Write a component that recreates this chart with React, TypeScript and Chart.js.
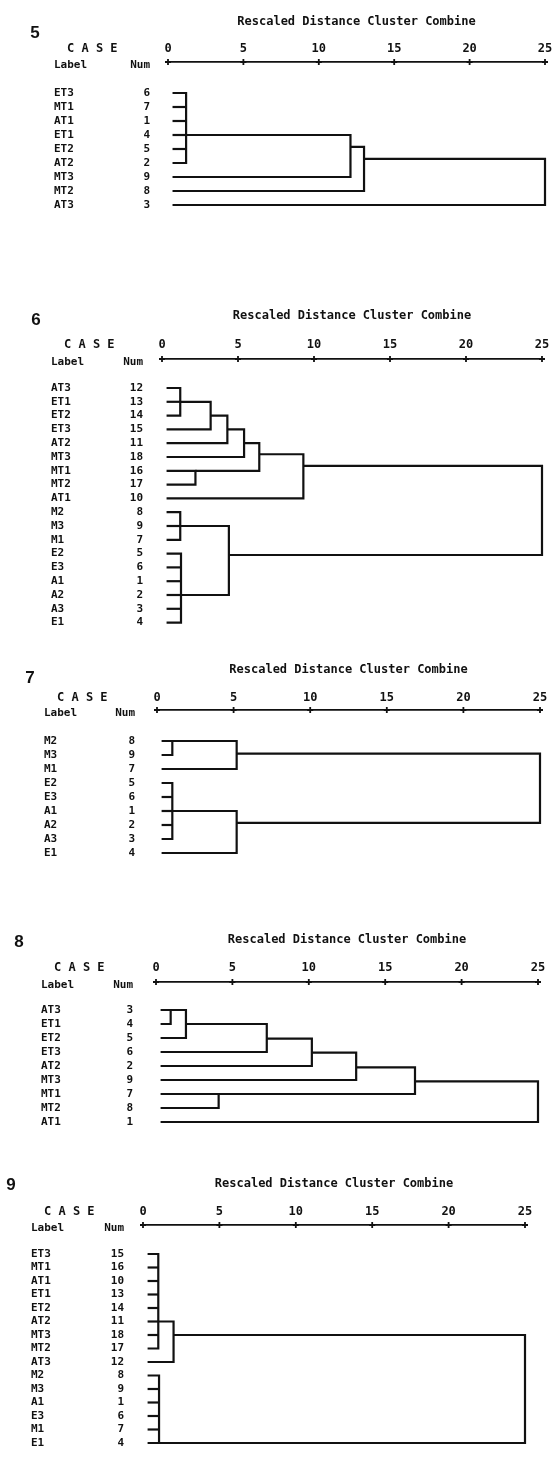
import React, { useEffect, useRef } from "react";
import { Chart, registerables } from "chart.js";

Chart.register(...registerables);

const INK = "#111111";
const MONO = '"DejaVu Sans Mono", "Liberation Mono", monospace';
const SANS = '"Liberation Sans", Arial, sans-serif';

// ---------- data ----------
const TITLE = "Rescaled Distance Cluster Combine";
const DIST_TICKS = [0, 5, 10, 15, 20, 25];
const LEAF_START = 0.3;

type Merge = { kids: string[]; dist: number; row: number };

// Panel 5
const P5_LABELS = ["ET3", "MT1", "AT1", "ET1", "ET2", "AT2", "MT3", "MT2", "AT3"];
const P5_NUMS = [6, 7, 1, 4, 5, 2, 9, 8, 3];
const P5_MERGES: Merge[] = [
  { kids: ["r0", "r1", "r2", "r3", "r4", "r5"], dist: 1.2, row: 3 },
  { kids: ["m0", "r6"], dist: 12.1, row: 3.85 },
  { kids: ["m1", "r7"], dist: 13.0, row: 4.7 },
  { kids: ["m2", "r8"], dist: 25, row: 6 },
];

// Panel 6
const P6_LABELS = ["AT3", "ET1", "ET2", "ET3", "AT2", "MT3", "MT1", "MT2", "AT1", "M2", "M3", "M1", "E2", "E3", "A1", "A2", "A3", "E1"];
const P6_NUMS = [12, 13, 14, 15, 11, 18, 16, 17, 10, 8, 9, 7, 5, 6, 1, 2, 3, 4];
const P6_MERGES: Merge[] = [
  { kids: ["r0", "r1", "r2"], dist: 1.2, row: 1 },
  { kids: ["m0", "r3"], dist: 3.2, row: 2 },
  { kids: ["m1", "r4"], dist: 4.3, row: 3 },
  { kids: ["m2", "r5"], dist: 5.4, row: 4 },
  { kids: ["r6", "r7"], dist: 2.2, row: 6 },
  { kids: ["m3", "m4"], dist: 6.4, row: 4.8 },
  { kids: ["m5", "r8"], dist: 9.3, row: 5.65 },
  { kids: ["r9", "r10", "r11"], dist: 1.2, row: 10 },
  { kids: ["r12", "r13", "r14", "r15", "r16", "r17"], dist: 1.25, row: 15 },
  { kids: ["m7", "m8"], dist: 4.4, row: 12.1 },
  { kids: ["m6", "m9"], dist: 25, row: 9 },
];

// Panel 7
const P7_LABELS = ["M2", "M3", "M1", "E2", "E3", "A1", "A2", "A3", "E1"];
const P7_NUMS = [8, 9, 7, 5, 6, 1, 2, 3, 4];
const P7_MERGES: Merge[] = [
  { kids: ["r0", "r1"], dist: 1.0, row: 0 },
  { kids: ["m0", "r2"], dist: 5.2, row: 0.9 },
  { kids: ["r3", "r4", "r5", "r6", "r7"], dist: 1.0, row: 5 },
  { kids: ["m2", "r8"], dist: 5.2, row: 5.85 },
  { kids: ["m1", "m3"], dist: 25, row: 3 },
];

// Panel 8
const P8_LABELS = ["AT3", "ET1", "ET2", "ET3", "AT2", "MT3", "MT1", "MT2", "AT1"];
const P8_NUMS = [3, 4, 5, 6, 2, 9, 7, 8, 1];
const P8_MERGES: Merge[] = [
  { kids: ["r0", "r1"], dist: 0.96, row: 0 },
  { kids: ["m0", "r2"], dist: 1.96, row: 1 },
  { kids: ["m1", "r3"], dist: 7.25, row: 2.05 },
  { kids: ["m2", "r4"], dist: 10.2, row: 3.05 },
  { kids: ["m3", "r5"], dist: 13.1, row: 4.1 },
  { kids: ["r6", "r7"], dist: 4.1, row: 6 },
  { kids: ["m4", "m5"], dist: 16.95, row: 5.1 },
  { kids: ["m6", "r8"], dist: 25, row: 7 },
];

// Panel 9
const P9_LABELS = ["ET3", "MT1", "AT1", "ET1", "ET2", "AT2", "MT3", "MT2", "AT3", "M2", "M3", "A1", "E3", "M1", "E1"];
const P9_NUMS = [15, 16, 10, 13, 14, 11, 18, 17, 12, 8, 9, 1, 6, 7, 4];
const P9_MERGES: Merge[] = [
  { kids: ["r0", "r1", "r2", "r3", "r4", "r5", "r6", "r7"], dist: 1.0, row: 5 },
  { kids: ["m0", "r8"], dist: 2.0, row: 6 },
  { kids: ["r9", "r10", "r11", "r12", "r13", "r14"], dist: 1.05, row: 14 },
  { kids: ["m1", "m2"], dist: 25, row: 10 },
];

// ---------- layout (page geometry, not data) ----------
type Layout = {
  top: number; h: number; titleY: number; tickY: number; axisY: number;
  row0: number; step: number; x0: number; x25: number;
  labelLeft: number; numRight: number; noX: number; noY: number;
};

const PANELS: { no: string; labels: string[]; nums: number[]; merges: Merge[]; lay: Layout }[] = [
  { no: "5", labels: P5_LABELS, nums: P5_NUMS, merges: P5_MERGES,
    lay: { top: 0, h: 290, titleY: 22, tickY: 49, axisY: 62, row0: 93, step: 14, x0: 168, x25: 545, labelLeft: 54, numRight: 150, noX: 35, noY: 33 } },
  { no: "6", labels: P6_LABELS, nums: P6_NUMS, merges: P6_MERGES,
    lay: { top: 290, h: 350, titleY: 26, tickY: 55, axisY: 69, row0: 98, step: 13.8, x0: 162, x25: 542, labelLeft: 51, numRight: 143, noX: 36, noY: 30 } },
  { no: "7", labels: P7_LABELS, nums: P7_NUMS, merges: P7_MERGES,
    lay: { top: 640, h: 250, titleY: 30, tickY: 58, axisY: 70, row0: 101, step: 14, x0: 157, x25: 540, labelLeft: 44, numRight: 135, noX: 30, noY: 38 } },
  { no: "8", labels: P8_LABELS, nums: P8_NUMS, merges: P8_MERGES,
    lay: { top: 890, h: 270, titleY: 50, tickY: 78, axisY: 92, row0: 120, step: 14, x0: 156, x25: 538, labelLeft: 41, numRight: 133, noX: 19, noY: 52 } },
  { no: "9", labels: P9_LABELS, nums: P9_NUMS, merges: P9_MERGES,
    lay: { top: 1160, h: 302, titleY: 24, tickY: 52, axisY: 65, row0: 94, step: 13.5, x0: 143, x25: 525, labelLeft: 31, numRight: 124, noX: 11, noY: 25 } },
];

// ---------- build dendrogram paths from merges ----------
function buildSegments(merges: Merge[]) {
  const pos = (k: string) => {
    const i = parseInt(k.slice(1), 10);
    return k[0] === "r" ? { x: LEAF_START, y: i } : { x: merges[i].dist, y: merges[i].row };
  };
  const segs: { x: number; y: number }[][] = [];
  merges.forEach((m) => {
    const ks = m.kids.map(pos).sort((a, b) => a.y - b.y);
    const first = ks[0];
    const last = ks[ks.length - 1];
    segs.push([
      { x: first.x, y: first.y },
      { x: m.dist, y: first.y },
      { x: m.dist, y: last.y },
      { x: last.x, y: last.y },
    ]);
    ks.slice(1, -1).forEach((k) => segs.push([{ x: k.x, y: k.y }, { x: m.dist, y: k.y }]));
  });
  return segs;
}

function makeConfig(p: (typeof PANELS)[number]): any {
  const L = p.lay;
  const n = p.labels.length;
  const yMin = -(L.row0 - L.axisY) / L.step;
  const yMax = n - 1 + 0.8;
  const chartBottom = L.axisY + (yMax - yMin) * L.step;
  const numW = 40;
  const labW = L.x0 - L.labelLeft - numW;
  const titleH = L.titleY + 11.2;
  const xH = L.axisY - titleH;
  const numPad = L.x0 - L.numRight;

  const datasets = buildSegments(p.merges).map((seg) => ({
    data: seg,
    showLine: true,
    borderColor: INK,
    borderWidth: 2.2,
    pointRadius: 0,
    pointHoverRadius: 0,
    fill: false,
    tension: 0,
    borderJoinStyle: "miter",
    borderCapStyle: "butt",
    clip: false,
    xAxisID: "x",
    yAxisID: "yLab",
  }));

  const decor = {
    id: "decor" + p.no,
    afterDraw(chart: any) {
      const { ctx, chartArea, scales } = chart;
      const xs = scales.x;
      ctx.save();
      ctx.strokeStyle = INK;
      ctx.lineWidth = 1.8;
      for (const t of xs.ticks) {
        const px = xs.getPixelForValue(t.value);
        const py = chartArea.top;
        ctx.beginPath();
        ctx.moveTo(px - 3, py);
        ctx.lineTo(px + 3, py);
        ctx.moveTo(px, py - 3);
        ctx.lineTo(px, py + 3);
        ctx.stroke();
      }
      ctx.fillStyle = INK;
      ctx.textBaseline = "middle";
      ctx.textAlign = "left";
      ctx.font = `bold 12px ${MONO}`;
      ctx.fillText("C A S E", scales.yLab.left + 13, L.tickY);
      ctx.font = `bold 11px ${MONO}`;
      ctx.fillText("Label", scales.yLab.left, chartArea.top + 3);
      ctx.textAlign = "right";
      ctx.fillText("Num", scales.yNum.right - numPad, chartArea.top + 3);
      ctx.textAlign = "center";
      ctx.font = `bold 17px ${SANS}`;
      ctx.fillText(p.no, L.noX, L.noY);
      ctx.restore();
    },
  };

  const tickFont = { family: MONO, size: 11, weight: "bold" };

  return {
    type: "scatter",
    data: { datasets },
    options: {
      responsive: false,
      animation: false,
      events: [],
      layout: { padding: { top: 0, left: L.labelLeft, right: 555 - L.x25, bottom: L.h - chartBottom } },
      plugins: {
        legend: { display: false },
        tooltip: { enabled: false },
        title: {
          display: true,
          text: TITLE,
          fullSize: false,
          align: "center",
          color: INK,
          font: { family: MONO, size: 12, weight: "bold" },
          padding: { top: L.titleY - 7.2, bottom: 4 },
        },
      },
      scales: {
        x: {
          type: "linear",
          position: "top",
          min: 0,
          max: 25,
          grid: { display: false, drawTicks: false },
          border: { display: true, color: INK, width: 1.8, dash: [4, 2.5] },
          ticks: {
            autoSkip: false,
            padding: L.axisY - L.tickY - 7.2,
            color: INK,
            font: { family: MONO, size: 12, weight: "bold" },
            maxRotation: 0,
            callback: (v: any) => String(v),
          },
          afterBuildTicks: (s: any) => {
            s.ticks = DIST_TICKS.map((v) => ({ value: v }));
          },
          afterFit: (s: any) => {
            s.height = xH;
            s.paddingLeft = 0;
            s.paddingRight = 0;
          },
        },
        yLab: {
          type: "linear",
          axis: "y",
          position: "left",
          weight: 2,
          min: yMin,
          max: yMax,
          reverse: true,
          grid: { display: false, drawTicks: false },
          border: { display: false },
          ticks: {
            autoSkip: false,
            crossAlign: "far",
            padding: 0,
            color: INK,
            font: tickFont,
            callback: (v: any) => p.labels[Math.round(Number(v))] ?? "",
          },
          afterBuildTicks: (s: any) => {
            s.ticks = p.labels.map((_, i) => ({ value: i }));
          },
          afterFit: (s: any) => {
            s.width = labW;
            s.paddingTop = 0;
            s.paddingBottom = 0;
          },
        },
        yNum: {
          type: "linear",
          axis: "y",
          position: "left",
          weight: 1,
          min: yMin,
          max: yMax,
          reverse: true,
          grid: { display: false, drawTicks: false },
          border: { display: false },
          ticks: {
            autoSkip: false,
            crossAlign: "near",
            padding: numPad,
            color: INK,
            font: tickFont,
            callback: (v: any) => {
              const val = p.nums[Math.round(Number(v))];
              return val === undefined ? "" : String(val);
            },
          },
          afterBuildTicks: (s: any) => {
            s.ticks = p.nums.map((_, i) => ({ value: i }));
          },
          afterFit: (s: any) => {
            s.width = numW;
            s.paddingTop = 0;
            s.paddingBottom = 0;
          },
        },
      },
    },
    plugins: [decor],
  };
}

function Panel({ p }: { p: (typeof PANELS)[number] }) {
  const ref = useRef<HTMLCanvasElement | null>(null);
  useEffect(() => {
    if (!ref.current) return;
    const chart = new Chart(ref.current, makeConfig(p));
    return () => chart.destroy();
  }, [p]);
  return (
    <canvas
      ref={ref}
      width={555}
      height={p.lay.h}
      style={{ position: "absolute", left: 0, top: p.lay.top, display: "block", width: 555, height: p.lay.h }}
    />
  );
}

export default function App() {
  return (
    <div style={{ position: "absolute", left: 0, top: 0, width: 555, height: 1462, background: "#ffffff", overflow: "hidden" }}>
      {PANELS.map((p) => (
        <Panel key={p.no} p={p} />
      ))}
    </div>
  );
}
